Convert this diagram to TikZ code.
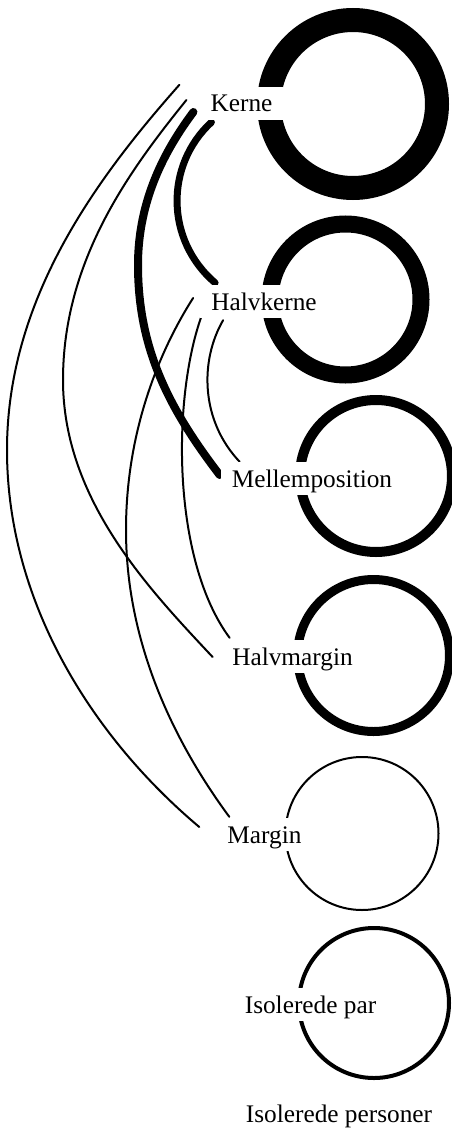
\documentclass[tikz,border=0pt]{standalone}
\usepackage{fontspec}
\setmainfont{Liberation Serif}
\pgfdeclarelayer{bg}
\pgfsetlayers{bg,main}
\begin{document}
\begin{tikzpicture}[x=1pt,y=-1pt,
  lbl/.style={fill=white, inner xsep=11pt, inner ysep=2pt, text height=23pt, text depth=6pt,
              font=\fontsize{25.3}{30}\selectfont, anchor=base},
  thinedge/.style={line width=2pt, line cap=round},
]
\useasboundingbox (0,0) rectangle (451,1129);

% nodes
\node[lbl] (K)  at (241.5,112) {Kerne};
\node[lbl] (H)  at (264,310)   {Halvkerne};
\node[lbl] (M)  at (312,487)   {Mellemposition};
\node[lbl] (HM) at (292.5,665) {Halvmargin};
\node[lbl] (Mg) at (264.5,843) {Margin};
\node[lbl] (IP) at (310.5,1013) {Isolerede par};
\node[lbl] (IS) at (339,1122)  {Isolerede personer};

\begin{pgfonlayer}{bg}
% self loops
\draw[line width=24pt] ([shift={(111.5,-8)}]K.base)   circle[radius=84];
\draw[line width=17pt] ([shift={(81.5,-10.5)}]H.base) circle[radius=75.5];
\draw[line width=10pt] ([shift={(64,-11)}]M.base)     circle[radius=76];
\draw[line width=9pt]  ([shift={(81,-9.5)}]HM.base)   circle[radius=76];
\draw[line width=2pt]  ([shift={(97.5,-9.5)}]Mg.base) circle[radius=76.5];
\draw[line width=4pt]  ([shift={(63.5,-10)}]IP.base)  circle[radius=75];

% edges
% Kerne -> Margin
\draw[thinedge] ([shift={(-20,-2)}]K.north west)
   .. controls (95,180) and (7,300) .. (7,450)
   .. controls (7,600) and (90,735) .. ([shift={(-17,-7.5)}]Mg.west);
% Kerne -> Halvmargin
\draw[thinedge] ([shift={(-13,-3.5)}]K.west)
   .. controls (130,170) and (63,260) .. (63,380)
   .. controls (63,500) and (150,590) .. ([shift={(-8.5,0.5)}]HM.west);
% Kerne -> Mellemposition
\draw[line width=8pt, line cap=round] ([shift={(-6,8.5)}]K.west)
   .. controls (165,150) and (138,200) .. (138,265)
   .. controls (138,350) and (170,410) .. ([shift={(-1,-3.5)}]M.west);
% Kerne -> Halvkerne
\draw[line width=7pt, line cap=round] ([shift={(12,2)}]K.south west)
   .. controls (165,165) and (165,240) .. ([shift={(15,-2)}]H.north west);
% Halvkerne -> Margin
\draw[thinedge] ([shift={(-7,-3.5)}]H.west)
   .. controls (160,350) and (126,430) .. (126,530)
   .. controls (126,650) and (180,750) .. ([shift={(13,-1)}]Mg.north west);
% Halvkerne -> Halvmargin
\draw[thinedge] ([shift={(1,-1)}]H.south west)
   .. controls (172,400) and (172,560) .. ([shift={(8.5,-2)}]HM.north west);
% Halvkerne -> Mellemposition
\draw[thinedge] ([shift={(23,2)}]H.south west)
   .. controls (200,360) and (200,420) .. ([shift={(19,0)}]M.north west);
\end{pgfonlayer}
\end{tikzpicture}
\end{document}
